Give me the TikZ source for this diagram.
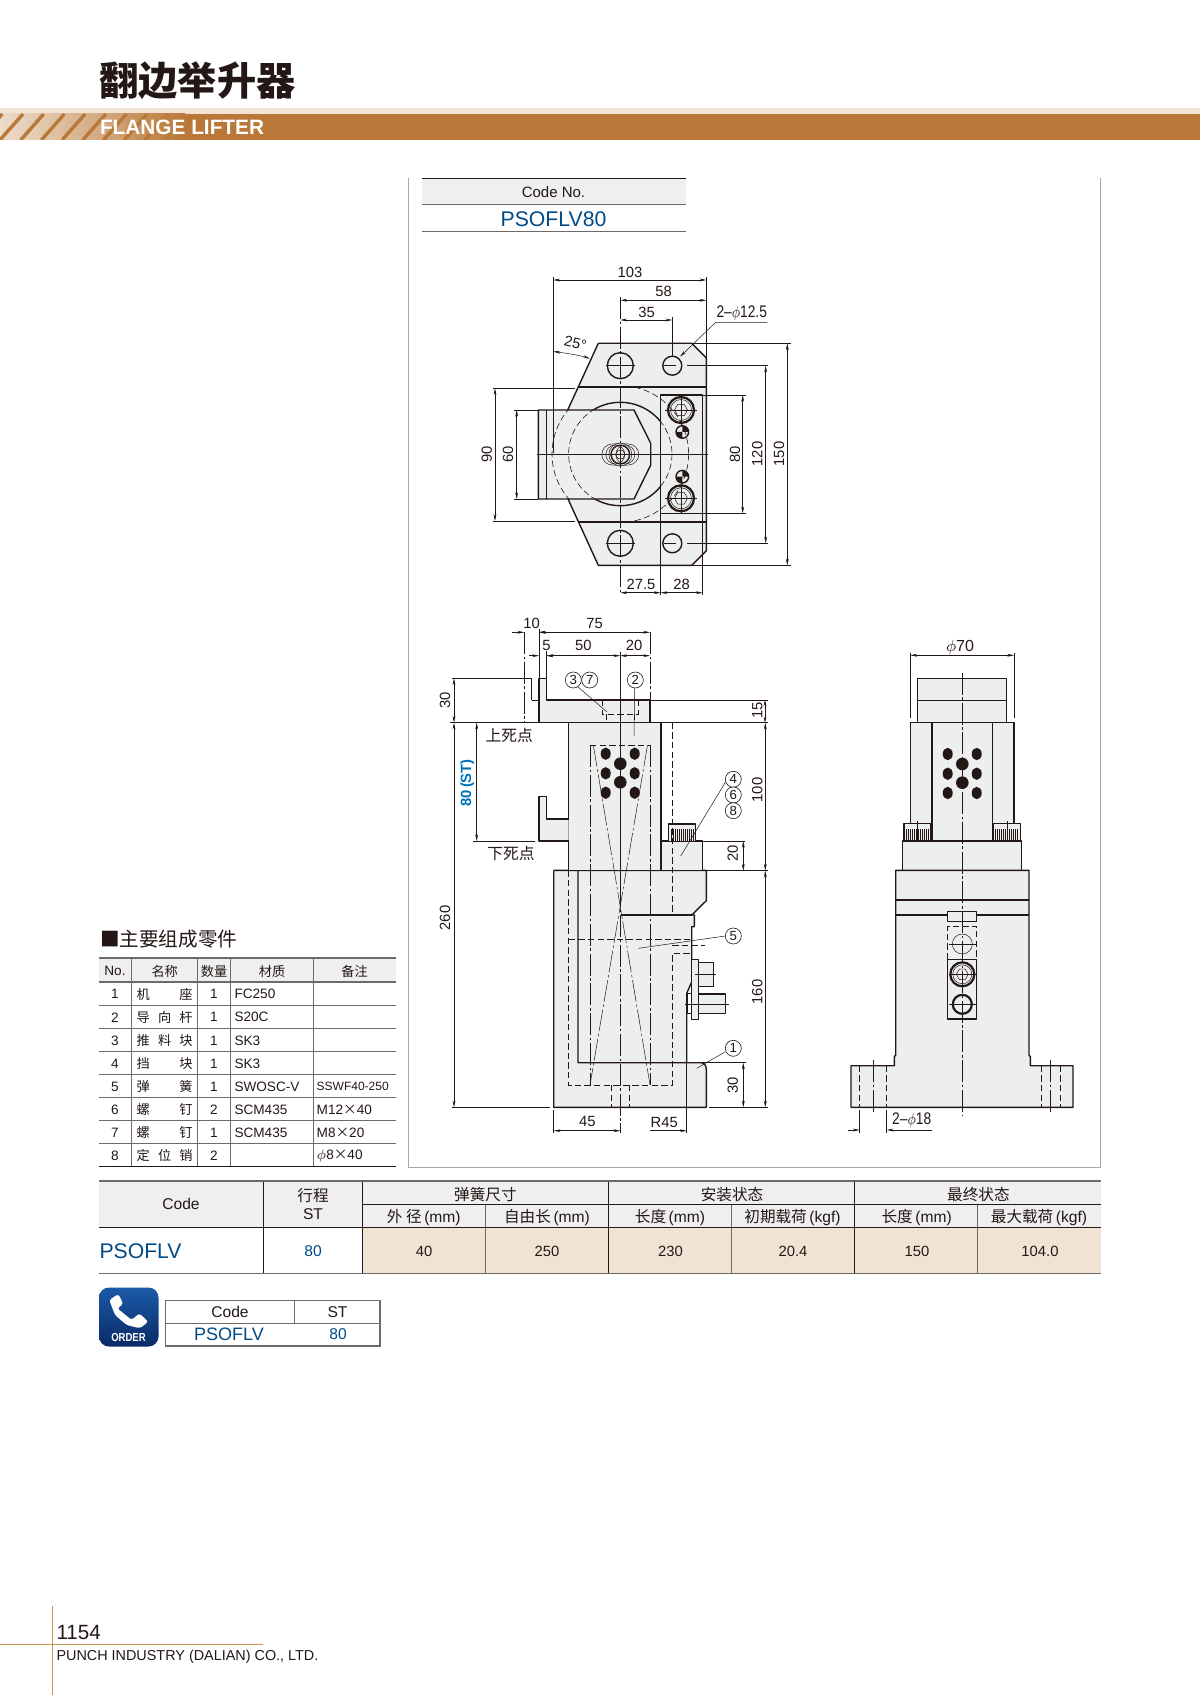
\documentclass[tikz,border=0pt]{standalone}
\usepackage{fontspec}
\usepackage{amsmath}
\setmainfont{Liberation Sans}
\newfontfamily\cjk{Noto Sans CJK SC}
\usetikzlibrary{arrows.meta}
\definecolor{ink}{HTML}{231815}
\definecolor{bodyg}{HTML}{EDEEEE}
\definecolor{hdr}{HTML}{EFEFEF}
\definecolor{peach}{HTML}{F0E3D3}
\definecolor{band}{HTML}{B97838}
\definecolor{bandl}{HTML}{F1E4D5}
\definecolor{navy}{HTML}{004B87}
\definecolor{sky}{HTML}{0072BC}
\definecolor{rule}{HTML}{6E6A68}
\definecolor{frame}{HTML}{A9A7A6}
\definecolor{foot}{HTML}{CF935A}
\definecolor{icontop}{HTML}{1B5AA8}
\definecolor{iconbot}{HTML}{0A2A66}
\newcounter{nn}
\newcommand{\TX}[4][]{\stepcounter{nn}\node[lbl,#1] (n\arabic{nn}) at (#2,#3) {#4};}
\newcommand{\DMH}[3]{\draw[dim] (#1,#3) -- (#2,#3);}
\newcommand{\DMV}[3]{\draw[dim] (#3,#1) -- (#3,#2);}
\newcommand{\BAL}[3]{\stepcounter{nn}\node[balloon] (n\arabic{nn}) at (#1,#2) {#3};}
\newcommand{\HZ}{\fontsize{7.8}{9}\selectfont}
\tikzset{
  lbl/.style={inner sep=0pt,outer sep=0pt,text=ink,font=\fontsize{7.4}{8}\selectfont},
  small/.style={font=\fontsize{6.8}{8}\selectfont},
  phi/.style={xscale=.82,font=\fontsize{8.4}{9}\selectfont},
  balloon/.style={circle,draw=ink,line width=.3pt,fill=white,minimum size=8pt,inner sep=0pt,text=ink,font=\fontsize{6.6}{7}\selectfont},
  thk/.style={draw=ink,line width=.7pt,line join=round},
  vthk/.style={draw=ink,line width=1.1pt},
  thn/.style={draw=ink,line width=.25pt},
  ctr/.style={draw=ink,line width=.25pt,dash pattern=on 11pt off 1.3pt on 1.3pt off 1.3pt},
  dsh/.style={draw=ink,line width=.3pt,dash pattern=on 3.2pt off 1.6pt},
  dim/.style={draw=ink,line width=.25pt,{Stealth[length=3.4pt,width=1.4pt]}-{Stealth[length=3.4pt,width=1.4pt]}},
  ldr/.style={draw=ink,line width=.25pt},
  fl/.style={fill=bodyg},
}
\begin{document}
\begin{tikzpicture}[x=0.5pt,y=-0.5pt]
\useasboundingbox (0,0) rectangle (1200,1695);
\fill[white] (0,0) rectangle (1200,1695);

% ---- header
\TX[font=\fontsize{19.6}{20}\selectfont\bfseries\cjk]{197.5}{81}{翻边举升器}
\fill[bandl] (0,108.3) rectangle (1200,114);
\fill[band] (0,114) rectangle (1200,140);
\shade[left color=bandl!55!white,right color=band!70!bandl] (-40,114) rectangle (135,140);
\shade[left color=band!70!bandl,right color=band] (125,114) rectangle (185,140);
\begin{scope}
\clip (0,114) rectangle (170,140);
\foreach \i in {-1,...,8} \draw[band,line width=1.7pt] (\i*20.7,140) -- (\i*20.7+23,114);
\end{scope}
\TX[anchor=west,text=white,font=\fontsize{10.4}{11}\selectfont\bfseries]{100}{127.5}{FLANGE LIFTER}

% ---- frame
\draw[frame,line width=.75pt] (408.7,178) -- (408.7,1167.5) -- (1100.5,1167.5) -- (1100.5,178);

% ---- code box
\fill[hdr] (422,178.3) rectangle (686,204.7);
\draw[ink,line width=.5pt] (422,178.3) -- (686,178.3);
\draw[rule,line width=.7pt] (422,204.7) -- (686,204.7);
\draw[rule,line width=.7pt] (422,231.3) -- (686,231.3);
\TX[font=\fontsize{7.5}{8}\selectfont]{553.5}{192.3}{Code No.}
\TX[text=navy,font=\fontsize{10.6}{11}\selectfont]{553.5}{219}{PSOFLV80}

% ---- TOP VIEW
\fill[bodyg] (598.3,343.3) -- (691.7,343.3) -- (706.3,358) -- (706.3,550.7) -- (691.7,565.3) -- (598.3,565.3) -- (567.7,498.3) -- (567.7,410) -- cycle;
\draw[thk] (598.3,343.3) -- (691.7,343.3) -- (706.3,358) -- (706.3,550.7) -- (691.7,565.3) -- (598.3,565.3) -- (567.7,498.3);
\draw[thk] (567.7,410) -- (598.3,343.3);
\draw[vthk] (578.5,386.7) -- (706.3,386.7);
\draw[vthk] (578.5,521.7) -- (706.3,521.7);
% big circle
\begin{scope}
\clip (500,300) rectangle (660.7,410) (634,410) rectangle (660.7,499) (500,499) rectangle (660.7,600);
\draw[thk] (620.3,454) circle[radius=51.7];
\end{scope}
\begin{scope}
\clip (660.7,410) rectangle (690,499);
\draw[dsh] (620.3,454) circle[radius=51.7];
\end{scope}
\begin{scope}
\clip (620,387.5) rectangle (710,521);
\draw[dsh] (620.3,454) circle[radius=68.3];
\end{scope}
% plate
\draw[thk,fl] (538.3,410) -- (634,410) -- (650.7,443.3) -- (650.7,465) -- (634,499) -- (538.3,499) -- cycle;
\begin{scope}
\clip (545,410) rectangle (620,499);
\draw[dsh] (620.3,454) circle[radius=51.7];
\draw[dsh] (620.3,454) circle[radius=68.3];
\end{scope}
\draw[thk] (546.3,410) -- (546.3,499);
% holes
\draw[thk] (620.3,365.7) circle[radius=13];
\draw[thk] (672.3,365.7) circle[radius=9.5];
\draw[thk] (620.3,543.3) circle[radius=13];
\draw[thk] (672.3,543.3) circle[radius=9.5];
% screw rect
\draw[thk] (660.7,395) rectangle (702.7,513.3);
\foreach \yy in {410,498.3}{
  \draw[vthk] (681,\yy) circle[radius=13];
  \draw[thn] (681,\yy) circle[radius=10.5];
  \draw[thn] (687.5,\yy) -- (684.3,\yy-5.7) -- (677.7,\yy-5.7) -- (674.5,\yy) -- (677.7,\yy+5.7) -- (684.3,\yy+5.7) -- cycle;
  \draw[thn] (665,\yy) -- (697,\yy) (681,\yy-15) -- (681,\yy+15);
}
\foreach \yy in {432,476.7}{
  \draw[thk] (682.3,\yy) circle[radius=6.3];
  \fill[ink] (682.3,\yy) -- (682.3,\yy-6.3) arc[start angle=-90,end angle=0,radius=6.3] -- cycle;
  \fill[ink] (682.3,\yy) -- (682.3,\yy+6.3) arc[start angle=90,end angle=180,radius=6.3] -- cycle;
}
% centre bolt
\draw[thn] (612.3,444) -- (628.3,444) arc[start angle=-90,end angle=90,radius=10.5] -- (612.3,465) arc[start angle=90,end angle=270,radius=10.5] -- cycle;
\draw[thk] (620.3,454.5) circle[radius=9.3];
\draw[thn] (620.3,454.5) circle[radius=11.5];
\draw[thn] (615.3,454.5) circle[radius=9.5];
\draw[thn] (625.3,454.5) circle[radius=9.5];
\draw[thn] (625,454.5) -- (622.7,450.4) -- (618,450.4) -- (615.6,454.5) -- (618,458.6) -- (622.7,458.6) -- cycle;
% centre lines
\draw[ctr] (620.3,297) -- (620.3,593);
\draw[thn] (536.7,454) -- (708,454);
\draw[thn] (605.7,365.7) -- (635,365.7) (605.7,543.3) -- (635,543.3);
\draw[thn] (664,365.7) -- (676,365.7) (664,543.3) -- (676,543.3);
% dims
\DMH{553.3}{706.3}{280}
\draw[thn] (553.3,277) -- (553.3,453) (706.3,277) -- (706.3,358);
\DMH{620.3}{706.3}{300.3}
\DMH{620.3}{672.3}{320}
\draw[thn] (672.3,317) -- (672.3,356);
\TX{630}{272}{103}
\TX{663.5}{291}{58}
\TX{646.5}{312}{35}
\TX[phi]{741.7}{313}{2--$\phi$12.5}
\draw[ldr,-{Stealth[length=3.4pt,width=1.4pt]}] (767.3,322.3) -- (715.7,322.3) -- (680,356.7);
\TX[rotate=-13]{575.5}{343}{25°}
\draw[dim] (553.3,351.5) .. controls (565,353) and (578,355) .. (590,358.5);
\DMV{388.3}{521}{495}
\draw[thn] (492.5,388.3) -- (575,388.3) (492.5,521) -- (575,521);
\TX[rotate=90]{486.7}{454}{90}
\DMV{410}{499}{516.7}
\draw[thn] (514,410) -- (538.3,410) (514,499) -- (538.3,499);
\TX[rotate=90]{508}{454}{60}
\DMV{395}{513.3}{742.7}
\draw[thn] (702.7,395) -- (746,395) (702.7,513.3) -- (746,513.3);
\TX[rotate=90]{735}{454}{80}
\DMV{365.7}{543.3}{765.7}
\draw[thn] (687.3,365.7) -- (768,365.7) (687.3,543.3) -- (768,543.3);
\TX[rotate=90]{757.3}{454}{120}
\DMV{343.3}{565.3}{787.3}
\draw[thn] (691.7,343.3) -- (790.7,343.3) (691.7,565.3) -- (790.7,565.3);
\TX[rotate=90]{779}{454}{150}
\DMH{620.3}{660.7}{592.7}
\DMH{660.7}{702.7}{592.7}
\draw[thn] (660.7,513.3) -- (660.7,595) (702.7,513.3) -- (702.7,595);
\TX{641}{584.3}{27.5}
\TX{681.7}{584.3}{28}

% ---- FRONT VIEW
% top block
\draw[thk,fl] (539,678.3) -- (546.7,678.3) -- (546.7,700) -- (650,700) -- (650,722.7) -- (539,722.7) -- cycle;
% base
\path[fl] (553.7,870.3) -- (706.3,870.3) -- (706.3,900.7) -- (691.7,915) -- (694.3,915) -- (694.3,926.7) -- (691.7,926.7) -- (691.7,982) -- (686.7,993.3) -- (686.7,1062.7) -- (701.7,1062.7) .. controls (704.5,1063) and (706.3,1065.5) .. (706.3,1070) -- (706.3,1107.3) -- (553.7,1107.3) -- cycle;
\draw[thk] (553.7,870.3) -- (706.3,870.3) -- (706.3,900.7) -- (691.7,915) -- (694.3,915) -- (694.3,926.7) -- (691.7,926.7) -- (691.7,982) -- (686.7,993.3) -- (686.7,1062.7);
\draw[thk] (578,870.3) -- (578,1062.7) -- (701.7,1062.7) .. controls (704.5,1063) and (706.3,1065.5) .. (706.3,1070) -- (706.3,1107.3) -- (553.7,1107.3) -- (553.7,870.3);
\draw[thk] (620.7,915) -- (691.7,915);
% guide body
\draw[thk,fl] (568.7,722.7) rectangle (661,870.5);
% lower block
\draw[thk,fl] (568.7,819) -- (546.7,819) -- (546.7,796.7) -- (539,796.7) -- (539,841) -- (568.7,841);
% stop block
\draw[thk,fl] (661,841) rectangle (702.3,870.3);
\draw[thk,fl] (668.3,841) -- (668.3,824) -- (695.7,824) -- (695.7,841);
\foreach \xx in {671,673,675,677,679,681,683,685,687,689,691,693} \draw[thn] (\xx,829) -- (\xx,841);
% side parts
\draw[thk,fl] (691.7,959.3) rectangle (698.3,1019.3);
\draw[thk,fl] (698.3,962.3) rectangle (713.3,986.7);
\draw[thk,fl] (698.3,994) rectangle (725.7,1013.3);
\draw[thk] (687.3,993.3) rectangle (691.7,1013.3);
\draw[thn] (695.3,974.3) -- (715.7,974.3) (685,1004) -- (729,1004);
% hidden lines
\draw[dsh] (568.7,870.3) -- (568.7,1085) -- (672.3,1085) -- (672.3,953.3) -- (691.7,953.3);
\draw[dsh] (672.3,722.7) -- (672.3,915);
\draw[dsh] (568.7,939) -- (691.7,939);
\draw[dsh] (672.3,945) -- (705,945);
\draw[dsh] (611.3,1085) -- (611.3,1107.3) (629.3,1085) -- (629.3,1107.3);
\draw[dsh] (590,745) -- (650.7,745);
\draw[dsh] (602.3,700) -- (602.3,714) -- (638.3,714) -- (638.3,700);
\draw[dsh] (606.7,714) -- (606.7,722.7) (634,714) -- (634,722.7);
\draw[dsh] (531.7,700) -- (539,700);
\draw[ctr] (590,745) -- (590,1085) (650.7,745) -- (650.7,1085);
\draw[ctr] (593.3,745) -- (650,1085) (647.5,745) -- (590,1085);
% spring holes
\foreach \xx in {605.7,634.7} \foreach \yy in {753.7,773.3,792.7} \fill[ink] (\xx,\yy) circle[x radius=5,y radius=6.2];
\foreach \yy in {763.7,782.3} \fill[ink] (620.3,\yy) circle[radius=6.3];
% centre line
\draw[thn] (620.3,652) -- (620.3,885);
\draw[ctr] (620.3,885) -- (620.3,1133);
% phantom
\draw[thn] (451.7,678.3) -- (531.7,678.3);
\draw[ctr] (531.7,678.3) -- (531.7,700) (524.3,632) -- (524.3,722.7);
\draw[ctr] (650,632) -- (650,722.7);
\draw[thn] (539,629) -- (539,678.3);
\draw[thn] (546.7,650.5) -- (546.7,678.3);
% dims
\DMH{539}{650}{632.3}
\draw[thn,-{Stealth[length=3.4pt,width=1.4pt]}] (511.5,632.3) -- (524.3,632.3);
\draw[thn,-{Stealth[length=3.4pt,width=1.4pt]}] (551,632.3) -- (539,632.3);
\draw[thn,-{Stealth[length=3.4pt,width=1.4pt]}] (529,655.7) -- (539,655.7);
\draw[thn,-{Stealth[length=3.4pt,width=1.4pt]}] (556,655.7) -- (546.7,655.7);
\DMH{546.7}{620.3}{655.7}
\DMH{620.3}{650}{655.7}
\TX{531.7}{623.3}{10}
\TX{594.7}{623.3}{75}
\TX{546.5}{645}{5}
\TX{583.3}{645}{50}
\TX{634}{645}{20}
\DMV{678.3}{722.7}{454}
\TX[rotate=90]{445}{700}{30}
\draw[thn] (450,722.7) -- (539,722.7) (661,722.7) -- (768,722.7) (650,700) -- (768,700);
\DMV{722.7}{1107.3}{454}
\TX[rotate=90]{445}{918}{260}
\DMV{722.7}{841}{476.7}
\draw[thn] (473,841) -- (535,841);
\TX[rotate=90,text=sky,font=\fontsize{7.4}{8}\selectfont\bfseries]{467.3}{783}{80\,(ST)}
\TX[font=\fontsize{7.9}{8}\selectfont\cjk]{509.3}{735}{上死点}
\TX[font=\fontsize{7.9}{8}\selectfont\cjk]{511}{853.3}{下死点}
\draw[thn,{Stealth[length=3pt,width=1.4pt]}-{Stealth[length=3pt,width=1.4pt]}] (765,700) -- (765,722.7);
\TX[rotate=90]{757.3}{710}{15}
\DMV{722.7}{870.7}{765.3}
\TX[rotate=90]{757.3}{790}{100}
\DMV{870.7}{1107.3}{765.3}
\TX[rotate=90]{757.3}{992}{160}
\DMV{841}{870.7}{743.3}
\draw[thn] (702.3,841) -- (745,841);
\TX[rotate=90]{732.7}{853.3}{20}
\DMV{1062.7}{1107.3}{743.3}
\draw[thn] (701.7,1062.7) -- (746,1062.7);
\TX[rotate=90]{732.7}{1085}{30}
\draw[thn] (706.3,870.5) -- (768,870.5) (451.7,1107.3) -- (550,1107.3) (709,1107.3) -- (768,1107.3);
\DMH{553.7}{620.3}{1130.7}
\draw[thn] (553.7,1110) -- (553.7,1133);
\TX{587.3}{1121}{45}
\draw[thn,-{Stealth[length=3.4pt,width=1.4pt]}] (650,1130.7) -- (686.7,1130.7);
\draw[thn] (686.7,1062.7) -- (686.7,1133);
\TX{664.3}{1122.3}{R45}
% leaders
\draw[ldr] (577.7,686.7) -- (606.7,711.7);
\draw[ldr] (634.7,687.3) -- (634,736);
\draw[ldr] (725.7,781.7) -- (680.7,856);
\draw[ldr] (725.3,936) -- (638.3,948.3);
\draw[ldr] (725.3,1051.7) -- (696.7,1068.3);
\BAL{573.3}{680}{3}
\BAL{589.7}{680}{7}
\BAL{635.3}{680}{2}
\BAL{733.3}{779.3}{4}
\BAL{733.3}{795}{6}
\BAL{733.3}{810.7}{8}
\BAL{733.3}{936}{5}
\BAL{733.3}{1048.3}{1}

% ---- SIDE VIEW
\draw[thk,fl] (917.7,678.3) rectangle (1006.7,722.3);
\draw[thk] (917.7,700.7) -- (1006.7,700.7);
\draw[thk,fl] (910.3,722.3) rectangle (1014,823.3);
\draw[thk] (932,722.3) -- (932,841) (992.3,722.3) -- (992.3,841);
\fill[bodyg] (932,823) rectangle (992.3,841);
\draw[thk] (932,823) -- (932,841) (992.3,823) -- (992.3,841);
\draw[thk,fl] (904,841) -- (904,823.3) -- (931,823.3) -- (931,841);
\draw[thk,fl] (993.3,841) -- (993.3,823.3) -- (1020.3,823.3) -- (1020.3,841);
\foreach \xx in {906,908,910,912,914,916,918,920,922,924,926,928,995,997,999,1001,1003,1005,1007,1009,1011,1013,1015,1017} \draw[thn] (\xx,829) -- (\xx,841);
\draw[thn] (917.5,821) -- (917.5,844) (1007,821) -- (1007,844);
\draw[thk,fl] (902.7,841) rectangle (1021.7,870.3);
\draw[thk,fl] (895.7,870.3) -- (1029,870.3) -- (1029,1055) -- (1030.3,1056.7) -- (1030.3,1065.7) -- (1073,1065.7) -- (1073,1107.3) -- (851,1107.3) -- (851,1065.7) -- (894.3,1065.7) -- (894.3,1056.7) -- (895.7,1055) -- cycle;
\draw[thk] (895.7,900) -- (1029,900);
\draw[thk] (895.7,915) -- (1029,915);
\draw[thk,fl] (947.7,911.7) rectangle (976.7,921.7);
\draw[dsh] (947.7,959.3) -- (947.7,926) -- (976.7,926) -- (976.7,959.3);
\draw[thn] (962.3,944) circle[radius=10];
\draw[thk] (947.7,959.3) rectangle (976.7,1019);
\draw[vthk] (962.3,974.3) circle[radius=12];
\draw[thn] (962.3,974.3) circle[radius=9.5];
\draw[thn] (968.3,974.3) -- (965.3,969.1) -- (959.3,969.1) -- (956.3,974.3) -- (959.3,979.5) -- (965.3,979.5) -- cycle;
\draw[vthk] (962.3,1004.3) circle[radius=9.5];
\draw[thn] (949,944) -- (975.5,944) (949,974.3) -- (975.5,974.3) (949,1004.3) -- (975.5,1004.3);
\foreach \xx in {947.7,976.7} \foreach \yy in {754,773.7,793} \fill[ink] (\xx,\yy) circle[x radius=5,y radius=6.2];
\foreach \yy in {764,782.7} \fill[ink] (962.3,\yy) circle[radius=6.3];
\draw[dsh] (859.7,1065.7) -- (859.7,1107.3) (886.7,1065.7) -- (886.7,1107.3) (1041.3,1065.7) -- (1041.3,1107.3) (1060,1065.7) -- (1060,1107.3);
\draw[ctr] (873.3,1060) -- (873.3,1113) (1050.7,1060) -- (1050.7,1113);
\draw[ctr] (962.3,672.7) -- (962.3,1115);
\DMH{910.3}{1014}{655.3}
\draw[thn] (910.3,652.7) -- (910.3,718) (1014,652.7) -- (1014,718);
\TX[font=\fontsize{8}{9}\selectfont]{960}{647.3}{$\phi$70}
\draw[thn] (859.7,1110) -- (859.7,1133) (886.7,1110) -- (886.7,1133);
\draw[thn,-{Stealth[length=3.4pt,width=1.4pt]}] (848,1130) -- (859.7,1130);
\draw[thn,-{Stealth[length=3.4pt,width=1.4pt]}] (931.7,1130) -- (886.7,1130);
\TX[phi]{911.7}{1120}{2--$\phi$18}

% ---- parts table
\TX[anchor=west,font=\fontsize{9.8}{10}\selectfont\cjk]{100}{939}{■主要组成零件}
\fill[hdr] (99,958.3) rectangle (395.7,982);
\foreach \yy in {1005,1028,1051.3,1074.3,1097.3,1120.3,1143.3} \draw[rule,line width=.4pt] (99,\yy) -- (395.7,\yy);
\foreach \xx in {131.7,197.7,230.7,313.3} \draw[rule,line width=.4pt] (\xx,958.3) -- (\xx,1166.7);
\draw[rule,line width=.9pt] (99,958.3) -- (395.7,958.3);
\draw[rule,line width=.9pt] (99,982) -- (395.7,982);
\draw[ink,line width=.7pt] (99,1166.7) -- (395.7,1166.7);
\TX[small]{115}{971}{No.}
\TX[font=\fontsize{6.6}{8}\selectfont\cjk]{164.7}{971}{名称}
\TX[font=\fontsize{6.6}{8}\selectfont\cjk]{214}{971}{数量}
\TX[font=\fontsize{6.6}{8}\selectfont\cjk]{272}{971}{材质}
\TX[font=\fontsize{6.6}{8}\selectfont\cjk]{354.5}{971}{备注}
\foreach \n/\a/\b/\c/\q/\m/\r in {
 1/机//座/1/FC250/,
 2/导/向/杆/1/S20C/,
 3/推/料/块/1/SK3/,
 4/挡//块/1/SK3/,
 5/弹//簧/1/SWOSC-V/,
 6/螺//钉/2/SCM435/M12{\cjk ×}40,
 7/螺//钉/1/SCM435/M8{\cjk ×}20,
 8/定/位/销/2//$\phi$8{\cjk ×}40}{
 \pgfmathsetmacro{\yy}{982+23.1*(\n-1)+12.2}
 \TX[small]{115}{\yy}{\n}
 \TX[font=\fontsize{6.6}{8}\selectfont\cjk]{143.3}{\yy}{\a}
 \TX[font=\fontsize{6.6}{8}\selectfont\cjk]{164.7}{\yy}{\b}
 \TX[font=\fontsize{6.6}{8}\selectfont\cjk]{186}{\yy}{\c}
 \TX[small]{214}{\yy}{\q}
 \TX[small,anchor=west]{234.5}{\yy}{\m}
 \TX[small,anchor=west]{316.7}{\yy}{\r}
}
\TX[anchor=west,font=\fontsize{6}{7}\selectfont]{316.7}{1086.6}{SSWF40-250}

% ---- spec table
\fill[hdr] (99.3,1181) rectangle (1100.5,1227.3);
\fill[peach] (362.7,1227.3) rectangle (1100.5,1273.3);
\foreach \xx in {485.3,731.5,977.7} \draw[rule,line width=.35pt] (\xx,1204.3) -- (\xx,1273.3);
\foreach \xx in {263.5,362.7,608.7,854.5} \draw[ink,line width=.45pt] (\xx,1181) -- (\xx,1273.3);
\draw[ink,line width=.35pt] (362.7,1204.3) -- (1100.5,1204.3);
\draw[rule,line width=.8pt] (99.3,1181) -- (1100.5,1181);
\draw[ink,line width=.8pt] (99.3,1227.3) -- (1100.5,1227.3);
\draw[rule,line width=.8pt] (99.3,1273.3) -- (1100.5,1273.3);
\TX[font=\HZ]{181}{1204}{Code}
\TX[font=\HZ\cjk]{313}{1195.5}{行程}
\TX[font=\HZ]{313}{1214}{ST}
\TX[font=\HZ\cjk]{485.4}{1194.5}{弹簧尺寸}
\TX[font=\HZ\cjk]{732}{1194.5}{安装状态}
\TX[font=\HZ\cjk]{978.4}{1194.5}{最终状态}
\TX[font=\HZ]{423.8}{1217.5}{{\cjk 外 径}\,(mm)}
\TX[font=\HZ]{547}{1217.5}{{\cjk 自由长}\,(mm)}
\TX[font=\HZ]{670}{1217.5}{{\cjk 长度}\,(mm)}
\TX[font=\HZ]{792.5}{1217.5}{{\cjk 初期载荷}\,(kgf)}
\TX[font=\HZ]{916.7}{1217.5}{{\cjk 长度}\,(mm)}
\TX[font=\HZ]{1039}{1217.5}{{\cjk 最大载荷}\,(kgf)}
\TX[anchor=west,text=navy,font=\fontsize{10.6}{11}\selectfont]{99.5}{1251}{PSOFLV}
\TX[text=navy,font=\HZ]{313}{1251}{80}
\TX[font=\fontsize{7.4}{8}\selectfont]{424}{1251}{40}
\TX[font=\fontsize{7.4}{8}\selectfont]{547}{1251}{250}
\TX[font=\fontsize{7.4}{8}\selectfont]{670.5}{1251}{230}
\TX[font=\fontsize{7.4}{8}\selectfont]{793}{1251}{20.4}
\TX[font=\fontsize{7.4}{8}\selectfont]{917}{1251}{150}
\TX[font=\fontsize{7.4}{8}\selectfont]{1040}{1251}{104.0}

% ---- order icon
\shade[top color=icontop,bottom color=iconbot,rounded corners=5pt] (99,1287.5) rectangle (158.5,1346.5);
\fill[white,rounded corners=1.3pt] (109.3,1300) -- (118.3,1294) -- (123.3,1304) -- (117.3,1308.3) -- (131.7,1320) -- (139.3,1313.3) -- (148.3,1321.7) -- (140,1328.3) -- (126.7,1325) -- (115,1315) -- cycle;
\TX[xscale=.82,text=white,font=\fontsize{5.8}{6}\selectfont\bfseries]{128.5}{1337.7}{ORDER}
\draw[rule,line width=.7pt] (165.5,1300.7) rectangle (380,1346);
\draw[rule,line width=.5pt] (165.5,1323.3) -- (380,1323.3);
\draw[rule,line width=.3pt] (294,1300.7) -- (294,1323.3);
\TX[font=\HZ]{230}{1312}{Code}
\TX[font=\HZ]{337.5}{1312}{ST}
\TX[text=navy,font=\fontsize{9}{9}\selectfont]{229}{1334.5}{PSOFLV}
\TX[text=navy,font=\HZ]{338}{1334.5}{80}

% ---- footer
\draw[foot,line width=.6pt] (52.3,1606) -- (52.3,1695);
\draw[foot,line width=.6pt] (0,1644.3) -- (263,1644.3);
\TX[anchor=west,font=\fontsize{10.3}{11}\selectfont]{56.5}{1632.5}{1154}
\TX[anchor=west,font=\fontsize{7.2}{8}\selectfont]{56.5}{1656.7}{PUNCH INDUSTRY (DALIAN) CO., LTD.}
\end{tikzpicture}
\end{document}
